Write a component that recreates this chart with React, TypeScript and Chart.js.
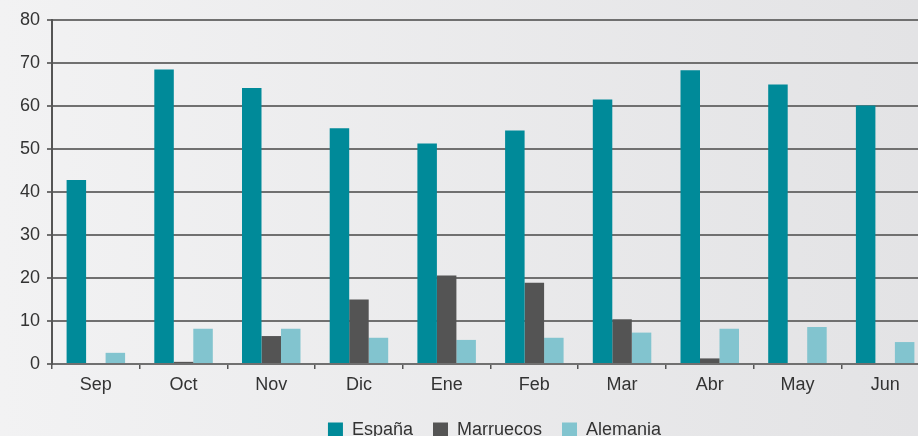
import React, { useEffect, useRef } from "react";
import { Chart, registerables } from "chart.js";

Chart.register(...registerables);

const categories = ["Sep", "Oct", "Nov", "Dic", "Ene", "Feb", "Mar", "Abr", "May", "Jun"];
const espana = [42.8, 68.5, 64.2, 54.8, 51.3, 54.3, 61.5, 68.3, 65.0, 60.1];
const marruecos = [0, 0.5, 6.5, 15.0, 20.6, 18.9, 10.4, 1.3, 0, 0];
const alemania = [2.6, 8.2, 8.2, 6.1, 5.6, 6.1, 7.3, 8.2, 8.6, 5.1];
const yMin = 0;
const yMax = 80;
const yStep = 10;

const FONT = "'Liberation Sans', Arial, Helvetica, sans-serif";

const legendShift = {
  id: "legendShift",
  afterLayout(chart: any) {
    if (chart.legend) {
      chart.legend.left += 30;
      chart.legend.right += 30;
    }
  },
};

export default function App() {
  const ref = useRef<HTMLCanvasElement | null>(null);

  useEffect(() => {
    if (!ref.current) return;
    const chart = new Chart(ref.current, {
      type: "bar",
      data: {
        labels: categories,
        datasets: [
          { label: "España", data: espana, backgroundColor: "#008a99", borderWidth: 0 },
          { label: "Marruecos", data: marruecos, backgroundColor: "#545454", borderWidth: 0 },
          { label: "Alemania", data: alemania, backgroundColor: "#82c4cf", borderWidth: 0 },
        ],
      },
      options: {
        animation: false,
        responsive: true,
        maintainAspectRatio: false,
        datasets: { bar: { categoryPercentage: 0.667, barPercentage: 1.0 } },
        layout: { padding: { top: 20, left: 0, right: 0, bottom: 0 } },
        plugins: {
          tooltip: { enabled: false },
          legend: {
            position: "bottom",
            labels: {
              boxWidth: 15,
              boxHeight: 15,
              padding: 20,
              color: "#333",
              font: { family: FONT, size: 18 },
            },
          },
        },
        scales: {
          x: {
            offset: true,
            grid: { offset: true, drawOnChartArea: false, drawTicks: true, tickLength: 5, color: "#555", lineWidth: 1.5 },
            border: { display: false },
            ticks: { color: "#333", padding: 5, font: { family: FONT, size: 18 } },
            afterFit: (s: any) => { s.height = 37; },
          },
          y: {
            min: yMin,
            max: yMax,
            ticks: { stepSize: yStep, color: "#333", padding: 7, font: { family: FONT, size: 18 } },
            grid: { color: "#707070", lineWidth: 2, tickLength: 5, drawTicks: true },
            border: { color: "#555", width: 2 },
            afterFit: (s: any) => { s.width = 52; },
          },
        },
      },
      plugins: [legendShift],
    });
    return () => chart.destroy();
  }, []);

  return (
    <div
      style={{
        position: "fixed",
        left: 0,
        top: 0,
        width: 918,
        height: 436,
        overflow: "hidden",
        background: "linear-gradient(to right, #f2f2f3, #e3e3e5)",
      }}
    >
      <div style={{ position: "absolute", left: 0, top: 0, width: 929, height: 449 }}>
        <canvas ref={ref} />
      </div>
    </div>
  );
}
